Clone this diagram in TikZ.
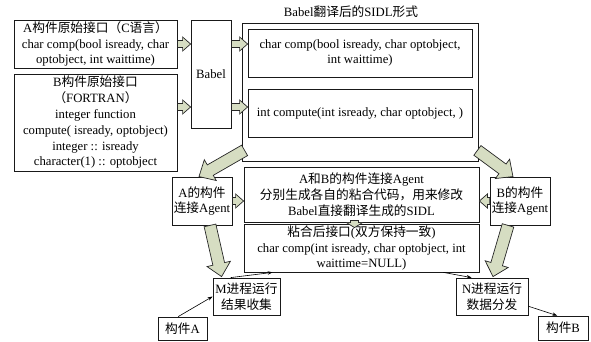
\documentclass[tikz,border=0pt]{standalone}
\usepackage{fontspec}
\setmainfont{Liberation Serif}
\newfontfamily\cjk{Noto Sans CJK SC}
\usetikzlibrary{decorations.markings,arrows.meta,calc}
\newcommand\zh[1]{{\cjk #1}}
\definecolor{fatfill}{RGB}{214,221,194}
\tikzset{
  fatlook/.style={fill=fatfill, draw=black!85, line width=0.7pt, line join=miter},
  fat/.style n args={3}{decoration={markings, mark=at position 0 with {
    \filldraw[fatlook] (0pt,-#1pt) -- ({\pgfdecoratedpathlength-#3pt},-#1pt) -- ({\pgfdecoratedpathlength-#3pt},-#2pt) -- ({\pgfdecoratedpathlength},0pt) -- ({\pgfdecoratedpathlength-#3pt},#2pt) -- ({\pgfdecoratedpathlength-#3pt},#1pt) -- (0pt,#1pt) -- cycle;}}, decorate},
  bigfat/.style={fat={6}{12}{13}},
  smallfat/.style={fat={3.5}{7}{8}},
  tinyfat/.style={fat={4}{8}{5}},
  box/.style={draw=black!90, line width=0.8pt, align=center, inner sep=1pt, fill=white},
  thinarr/.style={draw, line width=0.6pt, -{Stealth[length=5pt,width=3.5pt]}}
}
\begin{document}
\begin{tikzpicture}[x=1pt,y=1pt,font=\fontsize{12.7}{15.8}\selectfont]
\useasboundingbox (0,0) rectangle (591,341);
% left input boxes
\node[box, minimum width=163pt, minimum height=48pt] (boxA) at (95.5,297)
  {A\zh{构件原始接口（}C\zh{语言）}\\char comp(bool isready, char\\optobject, int waittime)};
\node[box, minimum width=163pt, minimum height=97pt] (boxB) at (95.5,218.5)
  {B\zh{构件原始接口}\\\zh{（}FORTRAN\zh{）}\\integer function\\compute( isready, optobject)\\integer :: isready\\character(1) :: optobject};
\node[box, minimum width=40pt, minimum height=108pt] (babel) at (211,267) {Babel};
% SIDL container
\node[box, minimum width=236pt, minimum height=138pt] (sidl) at (360,249) {};
\node (title) at (351,329) {Babel\zh{翻译后的}SIDL\zh{形式}};
\node[box, minimum width=224pt, minimum height=48pt] (in1) at (360,288)
  {char comp(bool isready, char optobject,\\int waittime)};
\node[box, minimum width=224pt, minimum height=48pt] (in2) at (360,228)
  {int compute(int isready, char optobject, )};
% agents and middle boxes
\node[box, minimum width=60pt, minimum height=48pt] (agA) at (202,140) {A\zh{的构件}\\\zh{连接}Agent};
\node[box, minimum width=60pt, minimum height=48pt] (agB) at (520,140) {B\zh{的构件}\\\zh{连接}Agent};
\node[box, minimum width=235pt, minimum height=55pt] (mid1) at (361.5,146.5)
  {A\zh{和}B\zh{的构件连接}Agent\\\zh{分别生成各自的粘合代码，用来修改}\\Babel\zh{直接翻译生成的}SIDL};
\node[box, minimum width=235pt, minimum height=48pt] (mid2) at (361.5,93)
  {\zh{粘合后接口}(\zh{双方保持一致})\\char comp(int isready, char optobject, int\\waittime=NULL)};
% process boxes
\node[box, minimum width=67pt, minimum height=37pt] (M) at (246.5,44.5) {M\zh{进程运行}\\\zh{结果收集}};
\node[box, minimum width=72pt, minimum height=37pt] (N) at (492,44.5) {N\zh{进程运行}\\\zh{数据分发}};
\node[box, minimum width=49pt, minimum height=23pt] (cA) at (182.5,12.5) {\zh{构件}A};
\node[box, minimum width=50pt, minimum height=24pt] (cB) at (563,13) {\zh{构件}B};
% fat arrows
\coordinate (bq) at ($(babel.west)+(0,-33)$);
\path[smallfat] (boxA.east) -- (boxA.east -| babel.west);
\path[smallfat] (bq -| boxB.east) -- (bq);
\path[smallfat] (babel.east |- boxA.east) -- (in1.west |- boxA.east);
\path[smallfat] (babel.east |- bq) -- (in2.west |- bq);
\coordinate (s1) at ($(sidl.south west)+(3,11)$);
\coordinate (s2) at ($(sidl.south east)+(-1,11)$);
\path[bigfat] (s1) -- ($(agA.north)+(-3,0)$);
\path[bigfat] (s2) -- ($(agB.north)+(-7,0)$);
\path[smallfat] (agA.east) -- (agA.east -| mid1.west);
\path[smallfat] (agB.west) -- (agB.west -| mid1.east);
\path[bigfat] ($(agA.south)+(8,0)$) -- ($(M.north west)+(9,1)$);
\path[bigfat] ($(agB.south)+(-12,0)$) -- ($(N.north)+(1,1)$);
\path[tinyfat] ($(mid1.south)+(-7,2)$) -- ($(mid2.north)+(-7,-4)$);
% thin arrows
\draw[thinarr] (cA.110) -- (M.west);
\draw[thinarr] (M.130) -- ($(mid2.south west)+(29,0)$);
\draw[thinarr] ($(mid2.south east)+(-36,0)$) -- ($(N.north west)+(16,0)$);
\draw[thinarr] (N.-15) -- (cB.115);
\end{tikzpicture}
\end{document}
